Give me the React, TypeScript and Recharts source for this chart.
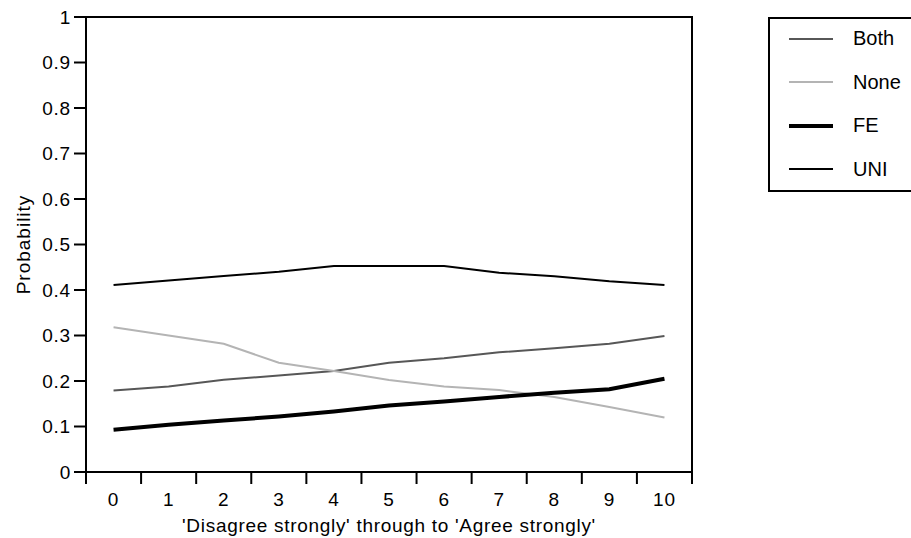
import React from "react";
import { LineChart, Line, XAxis, YAxis, ReferenceArea, Legend } from "recharts";

// Predicted probability of each outcome along the 0–10 agreement scale.
const CATEGORIES = [0, 1, 2, 3, 4, 5, 6, 7, 8, 9, 10];
const BOTH = [0.179, 0.188, 0.203, 0.212, 0.222, 0.24, 0.25, 0.263, 0.272, 0.282, 0.299];
const NONE = [0.318, 0.3, 0.282, 0.24, 0.222, 0.202, 0.188, 0.18, 0.165, 0.143, 0.12];
const FE = [0.093, 0.104, 0.113, 0.122, 0.133, 0.146, 0.155, 0.165, 0.174, 0.182, 0.205];
const UNI = [0.411, 0.421, 0.431, 0.44, 0.453, 0.453, 0.453, 0.438, 0.43, 0.419, 0.411];
const Y_TICKS = [0, 0.1, 0.2, 0.3, 0.4, 0.5, 0.6, 0.7, 0.8, 0.9, 1];

const FONT = "'Liberation Sans', Arial, Helvetica, sans-serif";

const SERIES = [
  { key: "both", name: "Both", color: "#575757", width: 2 },
  { key: "none", name: "None", color: "#b4b4b4", width: 2 },
  { key: "fe", name: "FE", color: "#000000", width: 4 },
  { key: "uni", name: "UNI", color: "#000000", width: 2 },
];

const data = CATEGORIES.map((c, i) => ({
  x: c,
  both: BOTH[i],
  none: NONE[i],
  fe: FE[i],
  uni: UNI[i],
}));

// labels sit on the categories, tick marks on the boundaries between them
const X_TICKS: number[] = [];
CATEGORIES.forEach((c) => X_TICKS.push(c - 0.5, c));
X_TICKS.push(CATEGORIES[CATEGORIES.length - 1] + 0.5);

function XTick({ x, y, payload }: any) {
  const v = payload.value;
  if (Number.isInteger(v)) {
    return (
      <text
        x={x}
        y={y + 27}
        textAnchor="middle"
        dominantBaseline="central"
        fill="#000"
        fontSize={19}
        fontFamily={FONT}
        letterSpacing={0.8}
      >
        {String(v)}
      </text>
    );
  }
  return <line x1={x} y1={y} x2={x} y2={y + 12} stroke="#000" strokeWidth={2} />;
}

function LegendBox() {
  return (
    <div
      style={{
        boxSizing: "border-box",
        width: 170,
        height: 175,
        border: "2px solid #000",
        background: "#fff",
        fontFamily: FONT,
        fontSize: 20,
        color: "#000",
      }}
    >
      <div style={{ marginTop: -2 }}>
        {SERIES.map((s) => (
          <div key={s.key} style={{ height: 43.5, display: "flex", alignItems: "center" }}>
            <div style={{ marginLeft: 19, width: 44, height: s.width, background: s.color }} />
            <span style={{ marginLeft: 20 }}>{s.name}</span>
          </div>
        ))}
      </div>
    </div>
  );
}

export default function App() {
  return (
    <div style={{ position: "absolute", left: 0, top: 0, width: 911, height: 538, overflow: "hidden", background: "#fff" }}>
      <LineChart width={911} height={538} data={data} margin={{ top: 17, right: 219, bottom: 36, left: 0 }}>
        <XAxis
          dataKey="x"
          type="number"
          domain={[-0.5, 10.5]}
          ticks={X_TICKS}
          interval={0}
          height={30}
          tickSize={0}
          tickMargin={0}
          tickLine={false}
          tick={<XTick />}
          axisLine={{ stroke: "#000", strokeWidth: 2 }}
          label={{
            value: "'Disagree strongly' through to 'Agree strongly'",
            content: ({ viewBox }: any) => (
              <text
                x={viewBox.x + viewBox.width / 2}
                y={viewBox.y + 53}
                textAnchor="middle"
                dominantBaseline="central"
                fill="#000"
                fontSize={19}
                fontFamily={FONT}
                letterSpacing={0.7}
              >
                'Disagree strongly' through to 'Agree strongly'
              </text>
            ),
          }}
        />
        <YAxis
          type="number"
          domain={[0, 1]}
          ticks={Y_TICKS}
          width={86}
          tickSize={12}
          tickMargin={3}
          tickLine={{ stroke: "#000", strokeWidth: 2 }}
          axisLine={{ stroke: "#000", strokeWidth: 2 }}
          tick={{ fill: "#000", fontSize: 19, fontFamily: FONT, letterSpacing: 0.8 }}
          tickFormatter={(v: number) => String(v)}
          label={{
            value: "Probability",
            content: ({ viewBox }: any) => {
              const cx = viewBox.x + 23;
              const cy = viewBox.y + viewBox.height / 2;
              return (
                <text
                  x={cx}
                  y={cy}
                  transform={`rotate(-90 ${cx} ${cy})`}
                  textAnchor="middle"
                  dominantBaseline="central"
                  fill="#000"
                  fontSize={19}
                  fontFamily={FONT}
                  letterSpacing={1}
                >
                  Probability
                </text>
              );
            },
          }}
        />
        <ReferenceArea x1={-0.5} x2={10.5} y1={0} y2={1} fill="none" stroke="#000" strokeWidth={2} />
        {SERIES.map((s) => (
          <Line
            key={s.key}
            type="linear"
            dataKey={s.key}
            name={s.name}
            stroke={s.color}
            strokeWidth={s.width}
            dot={false}
            activeDot={false}
            isAnimationActive={false}
          />
        ))}
        <Legend
          layout="vertical"
          align="center"
          verticalAlign="middle"
          content={() => <LegendBox />}
          wrapperStyle={{ left: 768, top: 17, width: 170, height: 175 }}
        />
      </LineChart>
    </div>
  );
}
